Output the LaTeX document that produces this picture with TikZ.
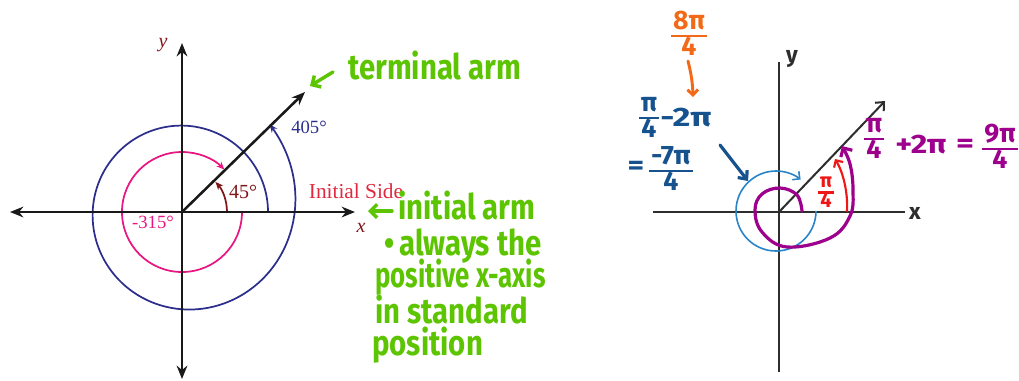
\documentclass[tikz,border=0pt]{standalone}
\usepackage{fontspec}
\usepackage{graphicx}
\setmainfont{Liberation Serif}
\newfontfamily\hand{Fira Sans}
\usetikzlibrary{arrows.meta,calc}
\definecolor{grn}{RGB}{92,196,0}
\definecolor{navyc}{RGB}{44,46,140}
\definecolor{magc}{RGB}{232,22,128}
\definecolor{dred}{RGB}{128,22,24}
\definecolor{isred}{RGB}{226,40,62}
\definecolor{lblue}{RGB}{40,132,200}
\definecolor{dblue}{RGB}{22,82,142}
\definecolor{purp}{RGB}{156,0,140}
\definecolor{rred}{RGB}{238,22,22}
\definecolor{orng}{RGB}{242,106,24}
\definecolor{axg}{RGB}{45,45,45}
\newcommand\hy[1]{\scalebox{1}[1.2]{#1}}
\newcommand\hfr[2]{{\setlength\arrayrulewidth{1.8pt}\setlength\tabcolsep{1.5pt}\begin{tabular}{c}#1\\\hline#2\end{tabular}}}
\renewcommand\arraystretch{0.6}
\tikzset{tipL/.tip={Stealth[length=10pt,width=8pt]}}
\begin{document}
\begin{tikzpicture}[x=0.75pt,y=-0.75pt,
  axl/.style={line width=1.9pt,black!90},
  lbl/.style={inner sep=0pt,font=\fontsize{14}{16}\selectfont},
  gr/.style={inner sep=0pt,anchor=west,text=grn,font=\hand\bfseries\fontsize{22}{26}\selectfont},
  garr/.style={grn,line width=2.6pt,line cap=round,-{Straight Barb[length=5pt,width=10pt]}},
  hw/.style={inner sep=0pt,font=\hand\bfseries\fontsize{20}{22}\selectfont},
  axr/.style={axg,line width=1.1pt}]
\useasboundingbox (0,0) rectangle (1019,380);
% ---------- left diagram ----------
\coordinate (O) at (182,212);
\coordinate (xl) at (10,212);
\coordinate (xr) at (355,212);
\coordinate (yt) at (182,43);
\coordinate (yb) at (182,379);
\coordinate (T) at (305,92);
% spiral 405
\draw[navyc,line width=1.3pt,-{Stealth[length=6pt,width=5pt]}]
  plot[domain=0:405,samples=220,smooth]
  ({182+(86+38*(\x/405)^3)*cos(\x)},{212-(86+38*(\x/405)^3)*sin(\x)});
% -315
\draw[magc,line width=1.3pt,-{Stealth[length=6pt,width=5pt]}]
  ($(O)+(60,0)$) arc[start angle=0,end angle=315,radius=60];
% 45
\draw[dred,line width=1.3pt,-{Stealth[length=6pt,width=5pt]}]
  ($(O)+(45,0)$) arc[start angle=0,end angle=-42,radius=45];
\draw[axl,{tipL}-{tipL}] (xl) -- (xr);
\draw[axl,{tipL}-{tipL}] (yt) -- (yb);
\draw[axl,-{tipL}] (O) -- (T);
\node[lbl,text=navyc] (l405) at (309,127) {405°};
\node[lbl,text=dred,font=\fontsize{15}{17}\selectfont] (l45) at (243,192) {45°};
\node[lbl,text=magc] (l315) at (153,222) {-315°};
\node[lbl,text=isred,font=\fontsize{16}{18}\selectfont] (lis) at (356,191) {Initial Side};
\node[lbl,text=dred,font=\itshape\fontsize{15}{17}\selectfont] (ly) at (163,45) {y};
\node[lbl,text=dred,font=\itshape\fontsize{15}{17}\selectfont] (lx) at (361,228) {x};
% green notes
\node[gr] (tarm) at (348,66) {\hy{terminal arm}};
\node[gr] (iarm) at (398,206) {\hy{initial arm}};
\node[gr] (alw) at (384,246) {\hy{•\,always the}};
\node[gr] (posx) at (375,277) {\scalebox{0.88}[1.2]{positive x-axis}};
\node[gr] (instd) at (375,310) {\hy{in standard}};
\node[gr] (posn) at (372,345) {\hy{position}};
\coordinate (ga1) at (333,72);
\coordinate (gt1) at (310,86);
\coordinate (ga2) at (392,211);
\coordinate (gt2) at (368,211);
\draw[garr] (ga1) -- (gt1);
\draw[garr] (ga2) -- (gt2);
% ---------- right diagram ----------
\coordinate (R) at (779,212);
\coordinate (rxl) at (653,212);
\coordinate (rxr) at (905,212);
\coordinate (ryt) at (779,62);
\coordinate (ryb) at (779,372);
\coordinate (RT) at (885,101);
\draw[axr] (rxl) -- (rxr);
\draw[axr] (ryt) -- (ryb);
\draw[axg,line width=1.5pt,-{Straight Barb[length=5pt,width=9pt]}] (R) -- (RT);
\node[hw,text=axg,font=\hand\bfseries\fontsize{17}{19}\selectfont] (ry) at (792,59) {y};
\node[hw,text=axg,font=\hand\bfseries\fontsize{17}{19}\selectfont] (rx) at (915,213) {x};
% light blue circle
\draw[lblue,line width=1.2pt,-{Straight Barb[length=4pt,width=8pt]}]
  (816,211) arc[start angle=0,end angle=308,radius=40];
% red arc
\coordinate (ra1) at (847,211);
\coordinate (ra2) at (835,159);
\draw[rred,line width=1.6pt,line cap=round,-{Straight Barb[length=4pt,width=8pt]}]
  (ra1) .. controls (848,192) and (843,172) .. (ra2);
% purple spiral
\draw[purp,line width=2.4pt,line cap=round,-{Straight Barb[length=5pt,width=10pt]}]
  plot[smooth,tension=0.65] coordinates {(802,211) (797,195) (780,188) (762,194) (755,210) (762,232) (787,247) (830,238) (850,216) (853,190) (850,164) (842,146)};
% labels
\node[hw,text=rred,font=\hand\bfseries\fontsize{15}{17}\selectfont\def\arraystretch{0.52}] (rpi) at (826,194) {\hfr{π}{4}};
\node[hw,text=orng] (o8) at (689,36) {\hfr{8π}{4}};
\coordinate (oa1) at (688,61);
\coordinate (oa2) at (693,97);
\draw[orng,line width=2.2pt,line cap=round,-{Straight Barb[length=4pt,width=8pt]}] (oa1) to[bend left=6] (oa2);
\node[hw,text=dblue] (bf1) at (649,120) {\hfr{π}{4}};
\node[hw,text=dblue,anchor=west] (bm2) at (660,118) {\scalebox{1.3}[1]{-2π}};
\node[hw,text=dblue] (beq) at (636,168) {\scalebox{1.2}[1]{=}};
\node[hw,text=dblue] (bf2) at (671,171) {\hfr{\scalebox{1.05}[1]{-7π}}{4}};
\coordinate (ba1) at (720,145);
\coordinate (ba2) at (748,181);
\draw[dblue,line width=2.4pt,line cap=round,-{Straight Barb[length=5pt,width=9pt]}] (ba1) -- (ba2);
\node[hw,text=purp] (pf1) at (874,141) {\hfr{π}{4}};
\node[hw,text=purp,anchor=west] (pp) at (895,145) {\scalebox{1.2}[1]{+2π}};
\node[hw,text=purp] (peq) at (965,146) {\scalebox{1.3}[1]{=}};
\node[hw,text=purp] (pf2) at (1000,149) {\hfr{9π}{4}};
\end{tikzpicture}
\end{document}
